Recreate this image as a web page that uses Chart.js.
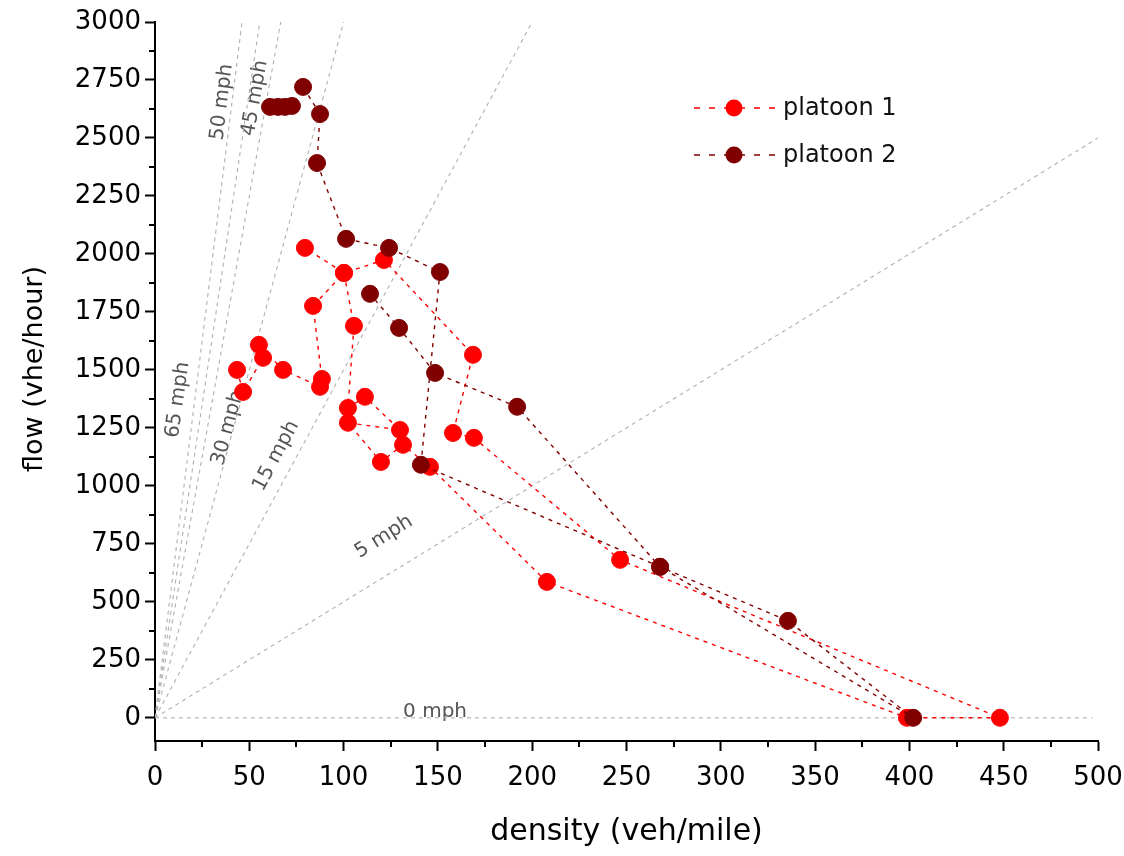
<!DOCTYPE html>
<html>
<head>
<meta charset="utf-8">
<title>flow vs density</title>
<script src="https://cdn.jsdelivr.net/npm/chart.js@4.4.1/dist/chart.umd.min.js"></script>
<style>
  html, body { margin: 0; padding: 0; background: #fff; }
</style>
</head>
<body>
<canvas id="fd" width="1124" height="856"></canvas>
<script>
// platoon 1 (red), in the order the points are joined
const p1Density = [43.5, 46.7, 57.3, 55.1, 67.9, 87.5, 88.5, 83.8, 100.2, 105.5, 102.3, 111.3, 129.9, 102.3, 119.8, 131.5, 145.8, 207.8, 398.7, 448, 246.6, 169.1, 158, 168.6, 121.4, 100.2, 79.5];
const p1Flow = [1500, 1405, 1552, 1608, 1500, 1427, 1461, 1776, 1918, 1690, 1336, 1384, 1241, 1272, 1103, 1177, 1082, 586, 0, 0, 681, 1207, 1228, 1565, 1974, 1918, 2026];

// platoon 2 (dark red)
const p2Density = [61, 65.2, 68.9, 72.6, 78.5, 87.5, 85.9, 101.3, 124.1, 151.1, 141, 267.8, 402, 335.6, 267.8, 192, 148.5, 129.4, 114];
const p2Flow = [2634, 2634, 2634, 2638, 2720, 2603, 2392, 2065, 2026, 1922, 1091, 651, 0, 418, 651, 1341, 1487, 1681, 1828];

// constant-speed guide lines (mph) and their labels
const speeds = [65, 54, 45, 30, 15, 5, 0];
const speedNames = ["65 mph", "50 mph", "45 mph", "30 mph", "15 mph", "5 mph", "0 mph"];

const xTicks = [0, 50, 100, 150, 200, 250, 300, 350, 400, 450, 500];
const yTicks = [0, 250, 500, 750, 1000, 1250, 1500, 1750, 2000, 2250, 2500, 2750, 3000];

const seriesNames = ["platoon 1", "platoon 2"];
const seriesColors = ["#ff0000", "#800000"];

// where the speed labels sit (data coords) and their rotation
const labelPlace = [
  { at: [12.2, 1371], rot: -82 },
  { at: [35.5, 2655], rot: -83 },
  { at: [53, 2672], rot: -80 },
  { at: [38.7, 1250], rot: -75 },
  { at: [64.2, 1129], rot: -62 },
  { at: [121.4, 780], rot: -32 },
  { at: [148.5, 26], rot: 0 }
];

const FONT = "'DejaVu Sans', sans-serif";

const toPts = (xs, ys) => xs.map((x, i) => ({ x: x, y: ys[i] }));

const guideSets = speeds.map(s => {
  const end = s === 0 ? 497 : Math.min(500, 3000 / s);
  return {
    label: s + " mph",
    data: [{ x: 0, y: 0 }, { x: end, y: end * s }],
    showLine: true,
    borderColor: "#b0b0b0",
    borderWidth: 1.1,
    borderDash: [4, 4],
    pointRadius: 0,
    order: 10
  };
});

const seriesSets = [
  { x: p1Density, y: p1Flow },
  { x: p2Density, y: p2Flow }
].map((s, i) => ({
  label: seriesNames[i],
  data: toPts(s.x, s.y),
  showLine: true,
  borderColor: seriesColors[i],
  borderWidth: 1.4,
  borderDash: [4, 5],
  pointRadius: 8.5,
  pointBackgroundColor: seriesColors[i],
  pointBorderColor: seriesColors[i],
  pointBorderWidth: 1,
  order: 1 - i
}));

// minor ticks between the labelled ones
const minorTicks = {
  id: "minorTicks",
  afterDraw(chart) {
    const { ctx, scales: { x, y } } = chart;
    ctx.save();
    ctx.strokeStyle = "#000";
    ctx.lineWidth = 2;
    for (let i = 0; i < xTicks.length - 1; i++) {
      const px = Math.round(x.getPixelForValue((xTicks[i] + xTicks[i + 1]) / 2));
      ctx.beginPath();
      ctx.moveTo(px, y.bottom);
      ctx.lineTo(px, y.bottom + 6);
      ctx.stroke();
    }
    for (let i = 0; i < yTicks.length - 1; i++) {
      const py = Math.round(y.getPixelForValue((yTicks[i] + yTicks[i + 1]) / 2));
      ctx.beginPath();
      ctx.moveTo(x.left, py);
      ctx.lineTo(x.left - 6, py);
      ctx.stroke();
    }
    ctx.restore();
  }
};

// "NN mph" labels along the guide lines
const speedLabels = {
  id: "speedLabels",
  beforeDatasetsDraw(chart) {
    const { ctx, scales: { x, y } } = chart;
    ctx.save();
    ctx.font = "20px " + FONT;
    ctx.fillStyle = "#555";
    ctx.textAlign = "center";
    ctx.textBaseline = "middle";
    speedNames.forEach((t, i) => {
      const p = labelPlace[i];
      ctx.save();
      ctx.translate(x.getPixelForValue(p.at[0]), y.getPixelForValue(p.at[1]));
      ctx.rotate(p.rot * Math.PI / 180);
      ctx.fillText(t, 0, 0);
      ctx.restore();
    });
    ctx.restore();
  }
};

// y axis title, drawn by hand so it sits where the original has it
const yTitle = {
  id: "yTitle",
  afterDraw(chart) {
    const { ctx } = chart;
    ctx.save();
    ctx.translate(35, 369);
    ctx.rotate(-Math.PI / 2);
    ctx.font = "27px " + FONT;
    ctx.fillStyle = "#000";
    ctx.textAlign = "center";
    ctx.textBaseline = "middle";
    ctx.fillText("flow (vhe/hour)", 0, 0);
    ctx.restore();
  }
};

// legend inside the plot, top right
const insideLegend = {
  id: "insideLegend",
  afterDraw(chart) {
    const { ctx } = chart;
    const rows = [108, 155];
    ctx.save();
    seriesNames.forEach((name, i) => {
      const yy = rows[i];
      ctx.strokeStyle = seriesColors[i];
      ctx.lineWidth = 1.4;
      ctx.setLineDash([6, 9]);
      ctx.beginPath();
      ctx.moveTo(694, yy);
      ctx.lineTo(776, yy);
      ctx.stroke();
      ctx.setLineDash([]);
      ctx.fillStyle = seriesColors[i];
      ctx.beginPath();
      ctx.arc(734, yy, 8.5, 0, Math.PI * 2);
      ctx.fill();
      ctx.fillStyle = "#111";
      ctx.font = "24px " + FONT;
      ctx.textBaseline = "middle";
      ctx.textAlign = "left";
      ctx.fillText(name, 783, yy + 1);
    });
    ctx.restore();
  }
};

const axisCommon = {
  type: "linear",
  grid: { drawOnChartArea: false, drawTicks: true, tickLength: 10, tickWidth: 2, tickColor: "#000" },
  border: { display: true, color: "#000", width: 2 }
};

new Chart(document.getElementById("fd").getContext("2d"), {
  type: "scatter",
  data: { datasets: [...seriesSets, ...guideSets] },
  options: {
    responsive: false,
    animation: false,
    layout: { padding: { top: 22, right: 26, left: 0, bottom: 0 } },
    plugins: { legend: { display: false }, tooltip: { enabled: false } },
    scales: {
      x: {
        ...axisCommon,
        min: 0,
        max: 500,
        afterBuildTicks: s => { s.ticks = xTicks.map(v => ({ value: v })); },
        afterFit: s => { s.height = 115; s.paddingLeft = 0; s.paddingRight = 0; },
        ticks: { font: { family: FONT, size: 26 }, color: "#000", padding: 12, autoSkip: false, maxRotation: 0, callback: v => String(v) },
        title: { display: true, text: "density (veh/mile)", font: { family: FONT, size: 30 }, color: "#000", padding: { top: 0, bottom: 6 } }
      },
      y: {
        ...axisCommon,
        min: -100,
        max: 3000,
        afterBuildTicks: s => { s.ticks = yTicks.map(v => ({ value: v })); },
        afterFit: s => { s.width = 155; s.paddingTop = 0; s.paddingBottom = 0; },
        ticks: { font: { family: FONT, size: 26 }, color: "#000", padding: 4, autoSkip: false, callback: v => String(v) },
        title: { display: false }
      }
    }
  },
  plugins: [minorTicks, speedLabels, yTitle, insideLegend]
});
</script>
</body>
</html>
